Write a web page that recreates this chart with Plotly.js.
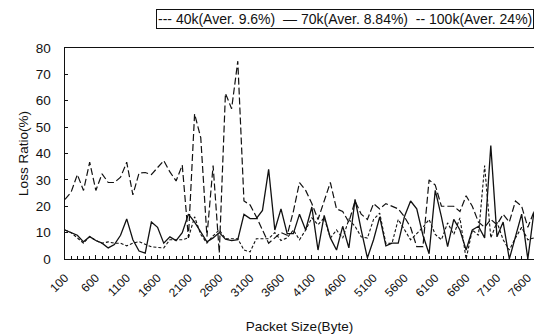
<!DOCTYPE html>
<html>
<head>
<meta charset="utf-8">
<script src="https://cdn.plot.ly/plotly-3.0.1.min.js"></script>
<style>html,body{margin:0;padding:0;background:#fff}#chart{width:536px;height:334px}</style>
</head>
<body>
<div id="chart"></div>
<script>
// Packet sizes (Byte)
var packetSize = [100,200,300,400,500,600,700,800,900,1000,
  1100,1200,1300,1400,1500,1600,1700,1800,1900,2000,
  2100,2200,2300,2400,2500,2600,2700,2800,2900,3000,
  3100,3200,3300,3400,3500,3600,3700,3800,3900,4000,
  4100,4200,4300,4400,4500,4600,4700,4800,4900,5000,
  5100,5200,5300,5400,5500,5600,5700,5800,5900,6000,
  6100,6200,6300,6400,6500,6600,6700,6800,6900,7000,
  7100,7200,7300,7400,7500,7600,7700];

// Loss ratio (%) for 40k
var loss40k = [11,10,8,6,8.5,7,6,6.5,6,6,
  5,6,6.6,5.5,4.6,4.4,4.2,7.3,7.3,7.3,
  8,16,9.3,6,8.8,11,7.7,7.7,7.7,3.4,
  2.7,7.7,7.7,7.7,10,7,8,11,7.3,11,
  15.6,13,15.6,7.9,11,7.9,15,12.4,8.4,7.9,
  15,17.4,5.9,6,15,11,7.3,9.6,12,15,
  9.3,7.3,13.7,9.3,15.6,0,11,9,35.4,8,
  14,7.3,3.4,8,12,7.3,8];

// Loss ratio (%) for 70k
var loss70k = [11,10,9,6.5,8.5,7,6,4.2,5.5,9,
  15.2,7.3,3,2.2,14,12,6,8.4,7,10,
  17,14,10,6.5,8,10,7.5,7,7.3,16.9,
  15.3,15.3,18.4,34,11,19,9.6,9.6,17,11,
  19.7,3.4,16.5,8,3.4,12.4,4.2,22.6,11,0.4,
  7.3,16,5,6,6,16,22,19,9,2,
  26,16,4.7,15,11,3.4,11,12.4,8,43,
  8.4,14,0,8.4,17,0,18];

// Loss ratio (%) for 100k
var loss100k = [22.6,25.4,32,26,36.7,26,32.3,29,29,31,
  36.7,24.3,32.6,32.8,32,34.6,37.3,33,29.6,35.6,
  8,55,46,8.5,35.4,2.3,62.8,57,75,22,
  20.5,16,11,6,8,10,9,18,29,26,
  21,15,22,29,19,18,14,22,17,15,
  21,19,21,20,19,16,12,4.7,4.7,30,
  28,20,20,20,18,24,20,14,12,15,
  13,17,14,22,20,12,18];

var xTicks = [100,600,1100,1600,2100,2600,3100,3600,4100,4600,5100,5600,6100,6600,7100,7600];
var seriesNames = ['40k(Aver. 9.6%)','70k(Aver. 8.84%)','100k(Aver. 24%)'];

var FONT = 'Liberation Sans, Arial, sans-serif';
var ink = '#111';

var traces = [
  {x: packetSize, y: loss40k, name: seriesNames[0], mode: 'lines', line: {color: ink, width: 1.1, dash: '3px,2px'}},
  {x: packetSize, y: loss70k, name: seriesNames[1], mode: 'lines', line: {color: ink, width: 1.3}},
  {x: packetSize, y: loss100k, name: seriesNames[2], mode: 'lines', line: {color: ink, width: 1.2, dash: '7px,3px'}}
];

var layout = {
  width: 536, height: 334,
  margin: {l: 65, r: 2, t: 48, b: 75},
  paper_bgcolor: '#fff', plot_bgcolor: '#fff',
  showlegend: false,
  font: {family: FONT, color: ink, size: 12},
  xaxis: {
    type: 'linear', range: [100, 7700],
    tickmode: 'array', tickvals: xTicks, ticktext: xTicks.map(String),
    tickangle: -45, tickfont: {size: 12, family: FONT},
    ticks: 'inside', ticklen: 4, tickcolor: ink,
    ticklabelstandoff: 6,
    minor: {dtick: 100, tick0: 100, ticks: 'inside', ticklen: 3, tickcolor: ink},
    showgrid: false, zeroline: false,
    showline: true, linecolor: ink, linewidth: 1.2, mirror: true,
    automargin: false,
    title: {text: 'Packet Size(Byte)', font: {size: 13.5, family: FONT}, standoff: 24}
  },
  yaxis: {
    range: [0, 80], dtick: 10, tick0: 0,
    tickfont: {size: 13.5, family: FONT},
    ticks: 'inside', ticklen: 3, tickcolor: ink,
    ticklabelstandoff: 10,
    showgrid: false, zeroline: false,
    showline: true, linecolor: ink, linewidth: 1.5,
    automargin: false,
    title: {text: 'Loss Ratio(%)', font: {size: 13.5, family: FONT}, standoff: 4}
  },
  annotations: [{
    xref: 'paper', yref: 'paper', x: 1, y: 1, xanchor: 'right', yanchor: 'bottom',
    yshift: 19,
    text: '--- ' + seriesNames[0] + '  \u2014 ' + seriesNames[1] + '  -- ' + seriesNames[2],
    showarrow: false, font: {size: 14, family: FONT, color: ink},
    bordercolor: ink, borderwidth: 1, borderpad: 1, bgcolor: '#fff'
  }]
};

Plotly.newPlot('chart', traces, layout, {displayModeBar: false, staticPlot: true});
</script>
</body>
</html>
